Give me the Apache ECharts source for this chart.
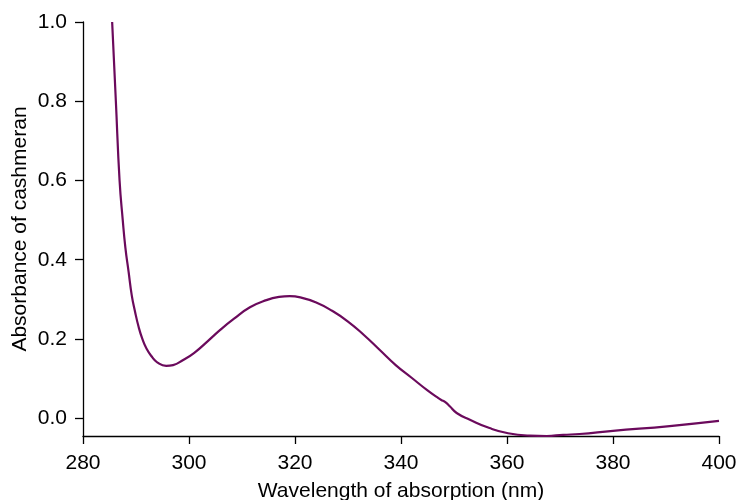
<!DOCTYPE html>
<html>
<head>
<meta charset="utf-8">
<title>Absorbance spectrum of cashmeran</title>
<script src="https://cdn.jsdelivr.net/npm/echarts@6/dist/echarts.min.js"></script>
<style>
  html, body { margin: 0; padding: 0; background: #fff; }
  #chart { width: 740px; height: 500px; }
</style>
</head>
<body>
<div id="chart"></div>
<script>
// Wavelength (nm) and measured absorbance of cashmeran
const wavelengths = [
  285.5, 286.2, 286.9, 287.5, 288.0, 288.6, 289.2, 289.8, 290.5, 291.2,
  292.0, 293.0, 294.0, 295.7, 297.0, 298.9, 301.0, 303.5, 306.0, 308.5,
  311.5, 314.6, 317.0, 319.0, 321.0, 324.0, 327.0, 330.0, 333.0, 336.0,
  339.0, 342.0, 345.0, 346.8, 347.6, 348.3, 349.2, 350.5, 353.0, 356.7,
  360.2, 364.3, 367.5, 370.6, 373.7, 380.0, 390.7, 400.0
];
const absorbance = [
  1.000, 0.800, 0.600, 0.500, 0.430, 0.370, 0.310, 0.270, 0.230, 0.200,
  0.175, 0.155, 0.141, 0.132, 0.134, 0.147, 0.165, 0.194, 0.224, 0.251,
  0.280, 0.298, 0.306, 0.308, 0.305, 0.292, 0.271, 0.244, 0.210, 0.172,
  0.134, 0.102, 0.070, 0.053, 0.046, 0.041, 0.030, 0.013, -0.004, -0.025,
  -0.038, -0.044, -0.045, -0.042, -0.040, -0.032, -0.020, -0.007
];
const yTickValues = [0, 0.2, 0.4, 0.6, 0.8, 1.0];

const fontFamily = '"Liberation Sans", Arial, Helvetica, sans-serif';
const points = wavelengths.map((w, i) => [w, absorbance[i]]);

const chart = echarts.init(document.getElementById('chart'), null, { renderer: 'canvas' });
chart.setOption({
  backgroundColor: '#ffffff',
  animation: false,
  grid: {
    left: 83, right: 21, top: 22, bottom: 64,
    containLabel: false,
    outerBoundsMode: 'none'
  },
  xAxis: {
    type: 'value',
    min: 280,
    max: 400,
    interval: 20,
    name: 'Wavelength of absorption (nm)',
    nameLocation: 'middle',
    nameGap: 45,
    nameTextStyle: { fontFamily, fontSize: 21, color: '#000' },
    axisLine: { show: true, onZero: false, lineStyle: { color: '#000', width: 1.3 } },
    axisTick: { show: true, length: 8, inside: false, lineStyle: { color: '#000', width: 1.3 } },
    axisLabel: { fontFamily, fontSize: 21, color: '#000', margin: 17 },
    splitLine: { show: false }
  },
  yAxis: {
    type: 'value',
    min: -0.045,
    max: 1.0,
    name: 'Absorbance of cashmeran',
    nameLocation: 'middle',
    nameGap: 52,
    nameMoveOverlap: false,
    nameTextStyle: { fontFamily, fontSize: 21, color: '#000' },
    axisLine: { show: true, onZero: false, lineStyle: { color: '#000', width: 1.3 } },
    axisTick: { show: true, length: 8, customValues: yTickValues, lineStyle: { color: '#000', width: 1.3 } },
    axisLabel: {
      fontFamily, fontSize: 21, color: '#000', margin: 16,
      customValues: yTickValues,
      formatter: v => v.toFixed(1)
    },
    splitLine: { show: false }
  },
  series: [{
    type: 'line',
    data: points,
    smooth: 0.5,
    showSymbol: false,
    clip: false,
    lineStyle: { color: '#6b0a5c', width: 2.2 }
  }]
});
</script>
</body>
</html>
